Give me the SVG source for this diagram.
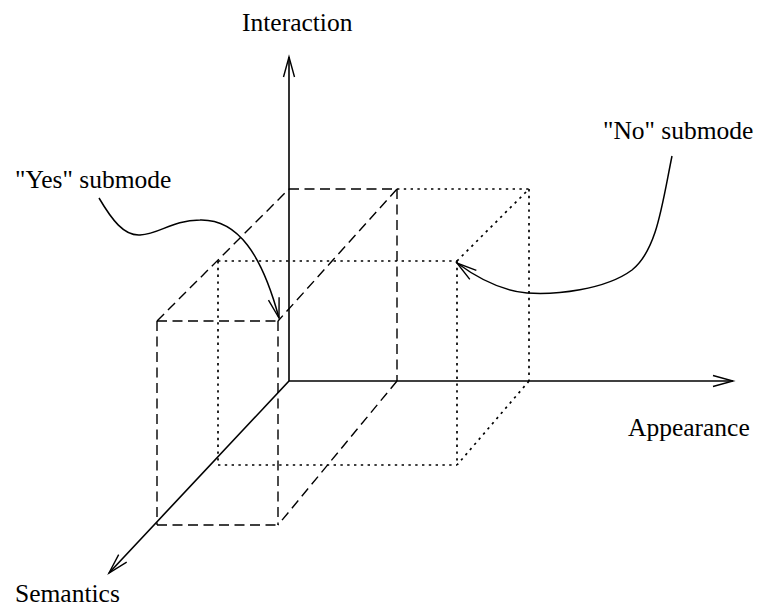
<svg xmlns="http://www.w3.org/2000/svg" width="760" height="610" viewBox="0 0 760 610">
  <defs>
    <marker id="arr" markerUnits="userSpaceOnUse" viewBox="-22 -8 24 16" refX="0" refY="0" markerWidth="24" markerHeight="16" orient="auto" overflow="visible">
      <path d="M-20,-5.5 L0,0 L-20,5.5" fill="none" stroke="#000" stroke-width="1.4"/>
    </marker>
    <style>
      .axis { stroke:#000; stroke-width:1.6; fill:none; }
      .dash { stroke:#000; stroke-width:1.4; fill:none; stroke-dasharray:10 5.5; }
      .dot { stroke:#000; stroke-width:1.7; fill:none; stroke-dasharray:2.4 4.4; }
      .curve { stroke:#000; stroke-width:1.5; fill:none; }
      .lbl { font-family:"Liberation Serif","Times New Roman",serif; font-size:25.5px; fill:#000; }
    </style>
  </defs>
  <rect width="760" height="610" fill="#fff"/>

  <g id="cube-dotted">
    <line class="dot" x1="397" y1="189" x2="529" y2="189"/>
    <line class="dot" x1="529" y1="189" x2="529" y2="381"/>
    <line class="dot" x1="529" y1="381" x2="457" y2="465"/>
    <line class="dot" x1="457" y1="261" x2="529" y2="189"/>
    <line class="dot" x1="218" y1="261" x2="457" y2="261"/>
    <line class="dot" x1="218" y1="261" x2="218" y2="465"/>
    <line class="dot" x1="218" y1="465" x2="457" y2="465"/>
    <line class="dot" x1="457" y1="261" x2="457" y2="465"/>
  </g>

  <g id="cube-dashed">
    <line class="dash" x1="157" y1="321" x2="278" y2="321"/>
    <line class="dash" x1="157" y1="321" x2="157" y2="525"/>
    <line class="dash" x1="157" y1="525" x2="278" y2="525"/>
    <line class="dash" x1="278" y1="321" x2="278" y2="525"/>
    <line class="dash" x1="157" y1="321" x2="289" y2="189"/>
    <line class="dash" x1="289" y1="189" x2="397" y2="189"/>
    <line class="dash" x1="397" y1="189" x2="278" y2="321"/>
    <line class="dash" x1="397" y1="189" x2="397" y2="381"/>
    <line class="dash" x1="397" y1="381" x2="278" y2="525"/>
  </g>

  <g id="connectors">
    <line id="axis-interaction" class="axis" x1="289" y1="381" x2="289" y2="57" marker-end="url(#arr)"/>
    <line id="axis-appearance" class="axis" x1="289" y1="381" x2="733" y2="381" marker-end="url(#arr)"/>
    <line id="axis-semantics" class="axis" x1="289" y1="381" x2="109" y2="573" marker-end="url(#arr)"/>
    <path id="yes-pointer" class="curve" d="M99,198 C112,220 124,236 140,235 C160,234 172,220 200,220 C238,219 262,255 279,318" marker-end="url(#arr)"/>
    <path id="no-pointer" class="curve" d="M672,156 C662,205 657,250 632,270 C605,290 555,295 527,293 C505,291 480,280 457,263" marker-end="url(#arr)"/>
  </g>

  <g id="label-interaction"><text class="lbl" x="242" y="31">Interaction</text></g>
  <g id="label-appearance"><text class="lbl" x="628" y="436">Appearance</text></g>
  <g id="label-semantics"><text class="lbl" x="15" y="602">Semantics</text></g>
  <g id="label-yes"><text class="lbl" x="15" y="188">"Yes" submode</text></g>
  <g id="label-no"><text class="lbl" x="603" y="139">"No" submode</text></g>
</svg>
